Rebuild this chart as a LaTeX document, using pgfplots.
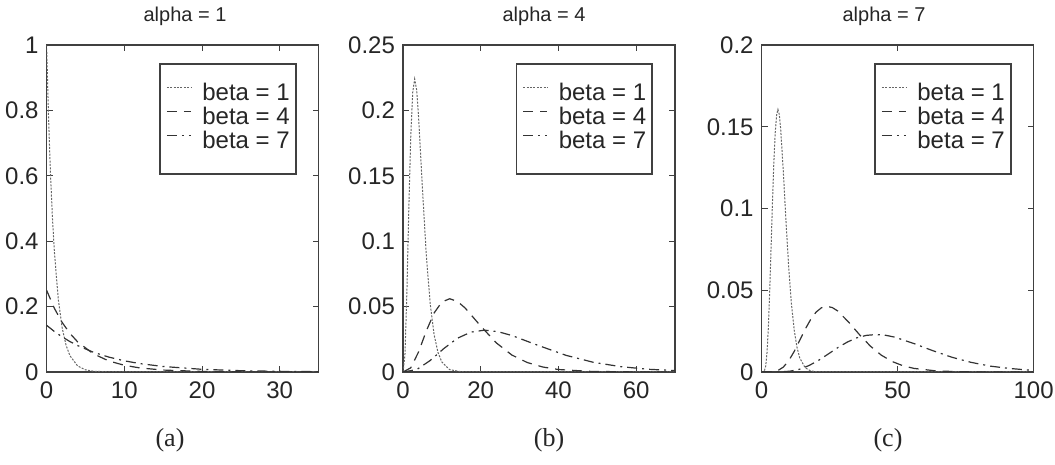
\documentclass[border=0pt]{standalone}
\usepackage{pgfplots}
\pgfplotsset{compat=1.18}
\usepackage{fontspec}
\setmainfont{Liberation Sans}
\newfontfamily\capfont{Liberation Serif}

\tikzset{ptitle/.style={font=\fontsize{10}{11}\selectfont, text=black!85, anchor=base, yshift=11.5pt}}
\pgfplotsset{
  panel/.style={
    scale only axis, width=136pt, height=163.5pt, anchor=south west,
    xmin=0, ymin=0,
    /pgf/number format/assume math mode=true,
    axis line style={black!75, line width=0.8pt},
    tick align=inside, major tick length=3pt, tick style={black!75, line width=0.5pt},
    ticklabel style={font=\fontsize{12}{13}\selectfont, text=black!85},
    xticklabel style={yshift=-1.2pt},
    yticklabel style={xshift=-0.5pt},
    legend style={at={(rel axis cs:1,1)}, anchor=north east, xshift=-11pt, yshift=-9pt,
      draw=black!75, line width=0.8pt, inner xsep=3pt, inner ysep=9.5pt,
      font=\fontsize{12}{12}\selectfont, text=black!85, column sep=5.5pt,
      nodes={inner sep=0pt, text height=9pt, text depth=3pt}},
    legend cell align=left,
    legend image code/.code={\draw[##1] (0pt,3.5pt) -- (12pt,3.5pt);},
  },
  b1/.style={black!60, line width=0.5pt, dash pattern=on 1pt off 0.7pt},
  b4/.style={black!80, line width=0.6pt, dash pattern=on 5pt off 3.5pt},
  b7/.style={black!80, line width=0.6pt, dash pattern=on 5pt off 2.5pt on 1pt off 2.5pt},
}

\begin{document}
\begin{tikzpicture}
\useasboundingbox (0pt,0pt) rectangle (527.5pt,232.5pt);

% (a) alpha = 1
\begin{axis}[panel, at={(23.3pt,46.5pt)},
  xmax=35, ymax=1, xtick={0,10,20,30},
  ytick={0,0.2,0.4,0.6,0.8,1}, yticklabels={0,0.2,0.4,0.6,0.8,1}]
\addplot[b1] coordinates {(0,1) (0.25,0.7788) (0.5,0.6065) (0.75,0.4724) (1,0.3679) (1.5,0.2231)
  (2,0.1353) (2.5,0.0821) (3,0.0498) (4,0.0183) (5,0.0067) (6,0.0025) (8,0.0003) (10,0) (35,0)};
\addlegendentry{beta = 1}
\addplot[b4] coordinates {(0,0.25) (1,0.1947) (2,0.1516) (3,0.1181) (4,0.0920) (6,0.0558)
  (8,0.0338) (10,0.0205) (12,0.0124) (15,0.0059) (20,0.0017) (25,0.0005) (30,0.0001) (35,0.00004)};
\addlegendentry{beta = 4}
\addplot[b7] coordinates {(0,0.1429) (1,0.1238) (2,0.1074) (3,0.0931) (4,0.0807) (6,0.0606)
  (8,0.0456) (10,0.0342) (12,0.0257) (15,0.0168) (20,0.0082) (25,0.0040) (30,0.0020) (35,0.0010)};
\addlegendentry{beta = 7}
\end{axis}

% (b) alpha = 4
\begin{axis}[panel, at={(201.5pt,46.5pt)},
  xmax=70, ymax=0.25, xtick={0,20,40,60},
  ytick={0,0.05,0.1,0.15,0.2,0.25}, yticklabels={0,0.05,0.1,0.15,0.2,0.25}]
\addplot[b1] coordinates {(0,0) (0.5,0.0126) (1,0.0613) (1.5,0.1255) (2,0.1804) (2.5,0.2138)
  (3,0.2240) (3.5,0.2158) (4,0.1954) (5,0.1404) (6,0.0892) (7,0.0521) (8,0.0286) (9,0.0150)
  (10,0.0076) (12,0.0018) (15,0.0002) (20,0) (70,0)};
\addlegendentry{beta = 1}
\addplot[b4] coordinates {(0,0) (2,0.0032) (4,0.0153) (6,0.0314) (8,0.0451) (10,0.0535)
  (12,0.0560) (14,0.0540) (16,0.0489) (20,0.0351) (24,0.0223) (28,0.0130) (32,0.0072)
  (36,0.0038) (40,0.0019) (48,0.0005) (60,0.00004) (70,0)};
\addlegendentry{beta = 4}
\addplot[b7] coordinates {(0,0) (3.5,0.0018) (7,0.0088) (10.5,0.0179) (14,0.0258) (17.5,0.0305)
  (21,0.0320) (24.5,0.0308) (28,0.0279) (35,0.0201) (42,0.0127) (49,0.0074) (56,0.0041)
  (63,0.0021) (70,0.0011)};
\addlegendentry{beta = 7}
\end{axis}

% (c) alpha = 7
\begin{axis}[panel, at={(380.8pt,46.5pt)},
  xmax=100, ymax=0.2, xtick={0,50,100},
  ytick={0,0.05,0.1,0.15,0.2}, yticklabels={0,0.05,0.1,0.15,0.2}]
\addplot[b1] coordinates {(0,0) (1,0.0005) (1.5,0.0035) (2,0.0120) (2.5,0.0278) (3,0.0504)
  (3.5,0.0771) (4,0.1042) (4.5,0.1281) (5,0.1462) (5.5,0.1571) (6,0.1606) (6.5,0.1575)
  (7,0.1490) (8,0.1221) (9,0.0911) (10,0.0631) (11,0.0411) (12,0.0255) (13,0.0152)
  (14,0.0087) (16,0.0026) (18,0.0007) (20,0.0002) (25,0) (100,0)};
\addlegendentry{beta = 1}
\addplot[b4] coordinates {(0,0) (4,0.0001) (6,0.0009) (8,0.0030) (10,0.0070) (12,0.0126)
  (14,0.0193) (16,0.0261) (18,0.0320) (20,0.0366) (22,0.0393) (24,0.0402) (26,0.0394)
  (28,0.0373) (32,0.0305) (36,0.0228) (40,0.0158) (44,0.0103) (48,0.0064) (52,0.0038)
  (56,0.0022) (64,0.0007) (72,0.0002) (80,0.00005) (100,0)};
\addlegendentry{beta = 4}
\addplot[b7] coordinates {(0,0) (7,0.0001) (10.5,0.0005) (14,0.0017) (17.5,0.0040) (21,0.0072)
  (24.5,0.0110) (28,0.0149) (31.5,0.0183) (35,0.0209) (38.5,0.0224) (42,0.0229) (45.5,0.0225)
  (49,0.0213) (56,0.0174) (63,0.0130) (70,0.0090) (77,0.0059) (84,0.0036) (91,0.0022)
  (98,0.0012) (100,0.0011)};
\addlegendentry{beta = 7}
\end{axis}

\node[ptitle] at (92.5pt,210pt) {alpha = 1};
\node[ptitle] at (272pt,210pt) {alpha = 4};
\node[ptitle] at (442pt,210pt) {alpha = 7};
\node[font=\capfont\fontsize{13}{14}\selectfont, text=black!85] at (85pt,12.5pt) {(a)};
\node[font=\capfont\fontsize{13}{14}\selectfont, text=black!85] at (274.5pt,12.5pt) {(b)};
\node[font=\capfont\fontsize{13}{14}\selectfont, text=black!85] at (444pt,12.5pt) {(c)};
\end{tikzpicture}
\end{document}
